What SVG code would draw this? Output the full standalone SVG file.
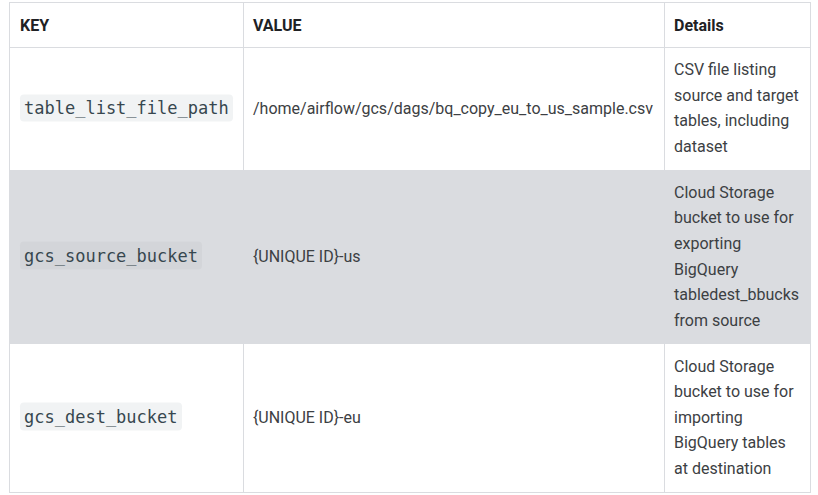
<svg xmlns="http://www.w3.org/2000/svg" width="818" height="495" viewBox="0 0 818 495">
<style>
.grid{stroke:#dadce0;stroke-width:1;fill:none}
.hd{font-family:Roboto,"Liberation Sans",sans-serif;font-size:16px;font-weight:bold;fill:#202124}
.tx{font-family:Roboto,"Liberation Sans",sans-serif;font-size:16px;fill:#3c4043}
.code{font-family:"DejaVu Sans Mono","Liberation Mono",monospace;font-size:17px;fill:#37474f}
.badge{fill:#f1f3f4}
.badge2{fill:#d3d5d9}
</style>
<rect x="0" y="0" width="818" height="495" fill="#ffffff"/>
<g id="grid">
<rect class="grid" x="9.5" y="2.5" width="801" height="490"/>
<line class="grid" x1="9.5" y1="47.5" x2="810.5" y2="47.5"/>
<line class="grid" x1="243.5" y1="2.5" x2="243.5" y2="492.5"/>
<line class="grid" x1="664.5" y1="2.5" x2="664.5" y2="492.5"/>
<rect x="9" y="170" width="802" height="174" fill="#dadce0"/>
</g>
<g id="header">
<text class="hd" x="20" y="31">KEY</text>
<text class="hd" x="253" y="31">VALUE</text>
<text class="hd" x="674" y="31">Details</text>
</g>
<g id="row1">
<rect class="badge" x="20" y="94.5" width="213" height="27" rx="4"/>
<text class="code" x="24" y="114">table_list_file_path</text>
<text class="tx" x="253" y="113.5">/home/airflow/gcs/dags/bq_copy_eu_to_us_sample.csv</text>
<text class="tx" x="674" y="75.1">CSV file listing</text>
<text class="tx" x="674" y="100.7">source and target</text>
<text class="tx" x="674" y="126.3">tables, including</text>
<text class="tx" x="674" y="151.9">dataset</text>
</g>
<g id="row2">
<rect class="badge2" x="20" y="241.5" width="182" height="28" rx="4"/>
<text class="code" x="24" y="261.5">gcs_source_bucket</text>
<text class="tx" x="253" y="261.8">{UNIQUE ID}-us</text>
<text class="tx" x="674" y="197.7">Cloud Storage</text>
<text class="tx" x="674" y="223.3">bucket to use for</text>
<text class="tx" x="674" y="248.9">exporting</text>
<text class="tx" x="674" y="274.5">BigQuery</text>
<text class="tx" x="674" y="300.1">tabledest_bbucks</text>
<text class="tx" x="674" y="325.7">from source</text>
</g>
<g id="row3">
<rect class="badge" x="20" y="402.5" width="162" height="28" rx="4"/>
<text class="code" x="24" y="422.7">gcs_dest_bucket</text>
<text class="tx" x="253" y="422.8">{UNIQUE ID}-eu</text>
<text class="tx" x="674" y="371.6">Cloud Storage</text>
<text class="tx" x="674" y="397.2">bucket to use for</text>
<text class="tx" x="674" y="422.8">importing</text>
<text class="tx" x="674" y="448.4">BigQuery tables</text>
<text class="tx" x="674" y="474">at destination</text>
</g>
</svg>
